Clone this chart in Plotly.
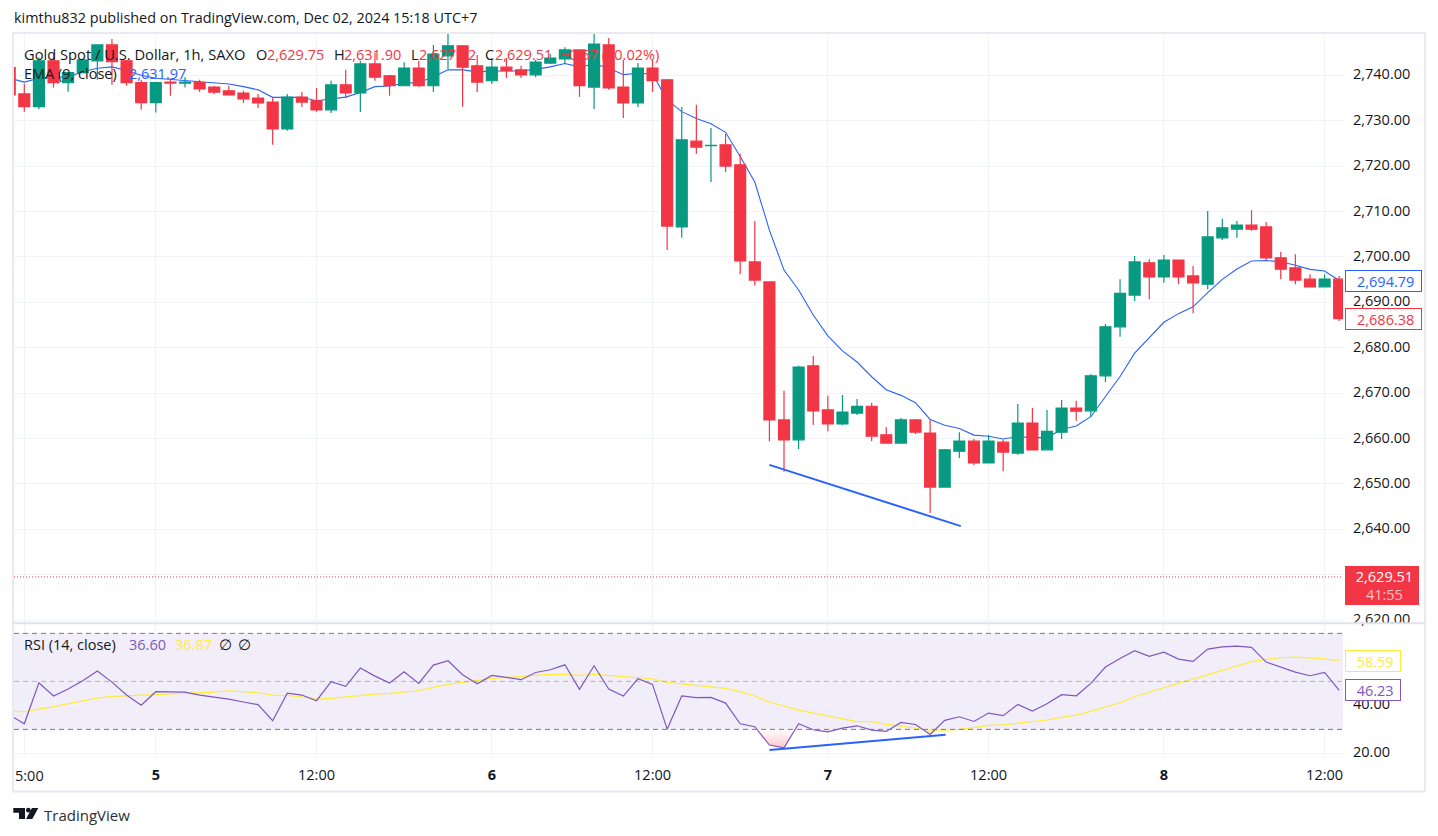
import numpy as np
import plotly.graph_objects as go

W, H = 1438, 836

bar_index = list(range(-1, 91))
opens = [2741.7,2735.9,2733.1,2743.2,2738.4,2740.6,2743.2,2746.7,2743.2,2738.4,2734.0,2738.5,2738.3,2738.4,2737.4,2736.6,2736.1,2735.0,2734.1,2728.2,
         2735.2,2734.4,2732.4,2737.9,2736.1,2742.5,2739.9,2737.7,2741.6,2737.7,2744.3,2746.5,2742.1,2738.8,2741.8,2741.2,2740.1,2742.7,2743.6,2745.6,
         2737.4,2746.7,2737.4,2733.9,2741.6,2739.0,2706.6,2725.5,2724.5,2724.7,2720.3,2698.9,2694.5,2664.1,2659.7,2676.0,2666.3,2663.2,2665.6,2667.1,
         2660.8,2659.0,2664.1,2661.2,2649.3,2657.2,2659.4,2654.6,2659.2,2656.8,2663.4,2657.5,2661.4,2666.7,2666.1,2673.8,2684.6,2691.6,2698.7,2695.6,
         2699.3,2695.8,2694.0,2704.2,2706.1,2707.0,2706.6,2699.8,2697.6,2695.1,2693.4,2695.1]
highs = [2742.0,2738.2,2744.0,2744.9,2740.6,2743.6,2746.7,2748.0,2743.4,2739.0,2738.6,2739.3,2739.6,2739.0,2737.7,2737.7,2736.6,2735.9,2735.2,2735.9,
         2736.3,2737.2,2738.8,2741.2,2743.2,2744.9,2740.1,2742.9,2743.2,2746.7,2749.1,2746.5,2744.5,2743.8,2743.8,2742.1,2743.4,2744.7,2746.2,2745.6,
         2749.1,2748.2,2743.4,2742.7,2743.4,2739.2,2733.0,2733.5,2728.4,2727.1,2722.7,2707.9,2694.5,2670.5,2676.0,2678.2,2669.4,2669.6,2668.7,2667.8,
         2662.5,2664.5,2664.3,2664.3,2657.7,2661.4,2659.9,2660.8,2659.7,2667.6,2666.7,2666.3,2668.5,2668.3,2674.2,2685.2,2695.1,2700.2,2699.5,2700.4,
         2699.3,2698.0,2710.1,2708.4,2707.9,2710.3,2707.7,2701.1,2700.6,2696.2,2696.2,2695.8]
lows = [2735.0,2732.0,2732.5,2737.3,2736.4,2740.4,2739.0,2737.9,2737.7,2732.4,2731.8,2735.5,2737.3,2736.3,2735.9,2735.7,2733.9,2732.8,2724.7,2727.8,
        2733.0,2732.0,2731.7,2735.0,2731.9,2738.8,2735.5,2737.7,2737.4,2736.3,2741.4,2733.1,2736.3,2738.1,2739.4,2739.4,2739.6,2742.5,2742.5,2735.2,
        2732.6,2736.8,2730.6,2733.0,2736.3,2701.5,2704.2,2722.7,2716.5,2718.7,2696.2,2693.7,2659.4,2652.7,2657.7,2663.0,2661.6,2663.0,2665.2,2659.4,
        2659.0,2659.0,2661.0,2643.6,2649.3,2655.7,2654.1,2654.6,2652.8,2656.4,2657.5,2657.5,2659.9,2663.9,2664.8,2672.4,2682.4,2690.3,2690.7,2694.3,
        2694.0,2687.6,2692.9,2703.7,2704.2,2705.7,2699.3,2695.1,2694.0,2693.4,2693.4,2685.9]
closes = [2735.7,2733.1,2743.2,2738.4,2740.6,2743.4,2746.7,2743.0,2738.4,2734.0,2738.4,2738.3,2738.5,2737.0,2736.3,2735.7,2734.8,2733.9,2728.2,2735.2,
          2734.1,2732.4,2737.9,2736.1,2742.5,2739.6,2737.7,2741.6,2737.7,2744.7,2746.5,2741.8,2738.5,2741.8,2741.0,2740.1,2742.9,2743.8,2745.6,2737.7,
          2746.9,2737.2,2733.9,2741.6,2738.8,2706.8,2725.8,2724.2,2724.6,2720.0,2699.1,2694.9,2664.1,2659.7,2675.7,2666.1,2663.2,2665.8,2667.1,2660.5,
          2659.0,2664.1,2661.4,2649.3,2657.5,2659.4,2654.6,2659.4,2657.0,2663.4,2657.5,2661.6,2666.7,2666.0,2673.8,2684.6,2692.0,2698.9,2695.6,2699.3,
          2695.6,2694.3,2704.4,2706.4,2707.0,2706.1,2699.8,2697.3,2694.9,2693.4,2695.1,2686.38]
ema_values = [2739.35,2738.5,2739.35,2739.6,2739.6,2740.8,2741.55,2741.85,2741.05,2740.0,2739.35,2739.1,2739.0,2738.75,2738.4,2738.1,2737.5,2736.8,2735.15,2735.15,
              2735.15,2734.4,2734.8,2735.2,2736.2,2737.5,2737.65,2738.25,2738.4,2739.7,2741.2,2741.2,2740.75,2740.95,2740.95,2740.95,2741.3,2741.85,2742.6,2741.85,
              2742.5,2741.6,2740.15,2740.45,2740.3,2734.6,2732.0,2730.5,2729.35,2727.45,2722.1,2716.5,2705.9,2697.1,2692.7,2687.2,2682.6,2679.3,2676.85,2673.6,
              2670.75,2669.5,2667.9,2664.2,2662.9,2662.2,2660.75,2660.5,2659.9,2660.45,2660.2,2660.2,2662.0,2662.75,2664.8,2669.3,2673.65,2678.8,2682.3,2685.6,
              2687.5,2689.0,2692.15,2695.05,2697.35,2699.1,2699.2,2698.95,2698.15,2697.25,2696.9,2694.79]
rsi_values = [35.96,32.35,49.4,43.9,46.8,50.3,54.3,49.7,44.3,40.1,45.7,45.55,45.55,44.3,43.5,42.6,41.4,40.3,33.6,45.1,
              44.3,41.95,49.85,47.9,55.55,52.2,49.3,54.0,49.15,56.8,58.6,52.75,49.0,52.5,51.65,50.7,53.7,54.85,56.9,46.65,
              56.5,46.8,43.9,51.1,48.75,30.1,43.9,43.2,43.35,40.95,32.35,31.1,23.5,22.35,32.35,29.85,29.0,30.55,31.5,29.7,
              29.15,32.9,32.05,27.9,33.75,35.25,33.3,36.8,35.7,40.4,37.6,40.7,44.45,44.0,49.15,55.95,59.55,62.75,60.4,62.2,
              59.3,58.3,63.45,64.4,64.7,64.15,58.05,55.95,53.85,52.35,53.75,46.23]
rsi_ma_values = [37.6,37.35,38.45,39.4,40.7,41.8,43.05,43.75,44.0,44.0,44.45,44.6,44.85,45.1,45.55,46.1,45.55,45.25,44.3,44.15,
                 43.5,42.6,42.9,43.6,44.15,44.7,45.0,45.55,46.1,47.5,48.75,49.6,50.55,51.25,51.65,52.1,52.6,52.9,52.9,52.5,
                 52.9,52.5,52.1,51.8,51.1,49.55,48.9,48.2,47.75,47.05,45.7,43.9,41.4,39.7,38.05,36.8,35.7,34.3,33.2,33.2,
                 32.05,31.4,30.4,29.55,29.7,30.0,30.7,31.65,31.9,32.6,33.2,33.9,35.0,35.95,37.5,39.15,41.1,43.6,45.55,47.5,
                 49.3,50.95,52.75,54.3,56.25,58.2,59.15,59.85,60.1,59.85,59.4,58.59]
price_trend_x = [51.0, 64.1]
price_trend_y = [2654.2, 2640.7]
rsi_trend_x = [51.0, 63.06]
rsi_trend_y = [21.4, 27.8]
price_ticks = [2620, 2630, 2640, 2650, 2660, 2670, 2680, 2690, 2700, 2710, 2720, 2730, 2740]
price_tick_labels = ["2,620.00", "", "2,640.00", "2,650.00", "2,660.00", "2,670.00", "2,680.00", "2,690.00", "2,700.00", "2,710.00", "2,720.00", "2,730.00", "2,740.00"]
rsi_ticks = [20, 40, 60]
rsi_tick_labels = ["20.00", "40.00", ""]
time_ticks = [0, 9, 20, 32, 43, 55, 66, 78, 89]
time_labels = ["", "<b>5</b>", "12:00", "<b>6</b>", "12:00", "<b>7</b>", "12:00", "<b>8</b>", "12:00"]
last_close = 2629.51
ema_last = 2694.79
price_last = 2686.38

RED, GREEN, BLUE = "#F23645", "#089981", "#2962FF"
PURPLE, YELLOW = "#7E57C2", "#FFEB3B"
TEXT, GRID = "#131722", "#F0F3FA"
FONT = "Open Sans"
FS = 14.5

def fx(px):
    return px / W

def fy(py):
    return 1 - py / H

fig = go.Figure()
fig.add_trace(go.Scatter(x=bar_index, y=ema_values, mode="lines", line=dict(color=BLUE, width=1.1), xaxis="x", yaxis="y"))
fig.add_trace(go.Candlestick(x=bar_index, open=opens, high=highs, low=lows, close=closes, xaxis="x3", yaxis="y3",
                             increasing=dict(line=dict(color=GREEN, width=1.2), fillcolor=GREEN),
                             decreasing=dict(line=dict(color=RED, width=1.2), fillcolor=RED), whiskerwidth=0))
fig.add_trace(go.Scatter(x=price_trend_x, y=price_trend_y, mode="lines", line=dict(color=BLUE, width=2), xaxis="x3", yaxis="y3"))

# oversold shading: the part of the RSI below the 30 line
rx, ry = [], []
arr = np.array(rsi_values)
for i in range(len(arr) - 1):
    a, b = arr[i], arr[i + 1]
    if a < 30 or b < 30:
        if a >= 30:
            rx.append(bar_index[i] + (a - 30) / (a - b))
            ry.append(30)
        if a < 30:
            rx.append(bar_index[i])
            ry.append(a)
        if a < 30 and b >= 30:
            rx.append(bar_index[i] + (30 - a) / (b - a))
            ry.append(30)
            fig.add_trace(go.Scatter(x=rx, y=ry, mode="lines", line=dict(width=0), fill="toself", xaxis="x2", yaxis="y2",
                                     fillgradient=dict(type="vertical", colorscale=[[0, "rgba(242,54,69,0.28)"], [1, "rgba(242,54,69,0)"]])))
            rx, ry = [], []

fig.add_trace(go.Scatter(x=bar_index, y=rsi_ma_values, mode="lines", line=dict(color=YELLOW, width=1.2), xaxis="x2", yaxis="y2"))
fig.add_trace(go.Scatter(x=bar_index, y=rsi_values, mode="lines", line=dict(color=PURPLE, width=1.2), xaxis="x2", yaxis="y2"))
fig.add_trace(go.Scatter(x=rsi_trend_x, y=rsi_trend_y, mode="lines", line=dict(color=BLUE, width=2), xaxis="x2", yaxis="y2"))

xrange = [-0.705, 90.26]
yrange = [2619.36, 2749.1]
rsirange = [18.5, 73.9]
xcommon = dict(range=xrange, domain=[fx(14), fx(1343)], showgrid=True, gridcolor=GRID, gridwidth=1, zeroline=False,
               tickmode="array", tickvals=time_ticks, ticks="", showline=False, fixedrange=True, automargin=False)
ann = []

def txt(x, y, text, color=TEXT, size=FS, anchor="left", **kw):
    ann.append(dict(xref="paper", yref="paper", x=fx(x), y=fy(y), text=text, showarrow=False, xanchor=anchor, yanchor="middle",
                    font=dict(family=FONT, size=size, color=color), borderpad=0, **kw))

txt(13, 17, "kimthu832 published on TradingView.com, Dec 02, 2024 15:18 UTC+7", size=14.4)
txt(23, 54, "Gold Spot / U.S. Dollar, 1h, SAXO", size=14.7)
txt(255, 54, "O")
txt(266, 54, "2,629.75", RED)
txt(333, 54, "H")
txt(343, 54, "2,631.90", RED)
txt(410, 54, "L")
txt(418, 54, "2,627.12", RED)
txt(484, 54, "C")
txt(494, 54, "2,629.51", RED)
txt(560, 54, "\u22120.57 (\u22120.02%)", RED)
txt(23, 74, "EMA (9, close)")
txt(128, 74, "2,631.97", BLUE)
txt(23, 644, "RSI (14, close)")
txt(128, 644, "36.60", PURPLE)
txt(174, 644, "36.87", YELLOW)
txt(218, 644, "\u2205")
txt(237, 644, "\u2205")
txt(43, 815, "TradingView", size=15, color="#2A2E39")
txt(14, 775, "5:00", size=FS)


def box(val, yref, text, color, x0, x1, h):
    ann.append(dict(xref="paper", yref=yref, x=fx(x0), y=val, xanchor="left", yanchor="middle", showarrow=False,
                    text="\u2009\u2009" + text,
                    font=dict(family=FONT, size=FS, color=color), bgcolor="white", bordercolor=color, borderwidth=1,
                    width=x1 - x0, height=h, align="center", borderpad=0))


box(ema_last, "y", f"{ema_last:,.2f}", BLUE, 1344.5, 1419, 20)
box(price_last, "y", f"{price_last:,.2f}", RED, 1344.5, 1419, 20)
box(rsi_ma_values[-1], "y2", f"{rsi_ma_values[-1]:.2f}", YELLOW, 1344.5, 1398, 20)
box(rsi_values[-1], "y2", f"{rsi_values[-1]:.2f}", PURPLE, 1344.5, 1398, 20)
ann.append(dict(xref="paper", yref="y", x=fx(1345), y=last_close, yshift=-8.5, xanchor="left", yanchor="middle", showarrow=False,
                text=f'\u2009\u2009{last_close:,.2f}<br>\u2009\u2009<span style="color:#FFC2C7">41:55</span>',
                font=dict(family=FONT, size=FS, color="white"), bgcolor=RED, bordercolor=RED, borderwidth=0,
                width=74, height=39, align="center", borderpad=0))

shapes = [
    dict(type="rect", xref="paper", yref="paper", x0=fx(13), x1=fx(1425), y0=fy(791.5), y1=fy(33), line=dict(color="#E9E9F2", width=2), fillcolor="rgba(0,0,0,0)", layer="below"),
    dict(type="line", xref="paper", yref="paper", x0=fx(13), x1=fx(1425), y0=fy(623.3), y1=fy(623.3), line=dict(color="#E0E3EB", width=2)),
    dict(type="rect", xref="paper", yref="y2", x0=fx(14), x1=fx(1343), y0=30, y1=70, line=dict(width=0), fillcolor="rgba(126,87,194,0.1)", layer="below"),
    dict(type="line", xref="paper", yref="y2", x0=fx(14), x1=fx(1343), y0=70, y1=70, line=dict(color="#787B86", width=1, dash="5px,4px")),
    dict(type="line", xref="paper", yref="y2", x0=fx(14), x1=fx(1343), y0=30, y1=30, line=dict(color="#787B86", width=1, dash="5px,4px")),
    dict(type="line", xref="paper", yref="y2", x0=fx(14), x1=fx(1343), y0=50, y1=50, line=dict(color="rgba(120,123,134,0.5)", width=1, dash="5px,4px")),
    dict(type="line", xref="paper", yref="y", x0=fx(14), x1=fx(1343), y0=last_close, y1=last_close, line=dict(color=RED, width=1, dash="1px,2px")),
]


def poly(points):
    return "M " + " L ".join(f"{fx(a):.5f},{fy(b):.5f}" for a, b in points) + " Z"


logo = [
    dict(type="path", xref="paper", yref="paper", path=poly([(13.3, 808), (25, 808), (25, 819), (19, 819), (19, 812.7), (13.3, 812.7)]), fillcolor="#131722", line=dict(width=0)),
    dict(type="circle", xref="paper", yref="paper", x0=fx(26), x1=fx(30.7), y0=fy(812.5), y1=fy(807.8), fillcolor="#131722", line=dict(width=0)),
    dict(type="path", xref="paper", yref="paper", path=poly([(32, 808), (38.3, 808), (32.3, 819), (26, 819)]), fillcolor="#131722", line=dict(width=0)),
]

fig.update_layout(
    width=W, height=H, margin=dict(l=0, r=0, t=0, b=0, pad=0, autoexpand=False), autosize=False, showlegend=False,
    paper_bgcolor="white", plot_bgcolor="white", boxgap=0.25, boxgroupgap=0, font=dict(family=FONT, color=TEXT, size=FS),
    xaxis=dict(**xcommon, anchor="y", showticklabels=False),
    xaxis2=dict(**xcommon, anchor="y2", showticklabels=True, ticktext=time_labels, ticklabelstandoff=7, tickfont=dict(family=FONT, size=FS, color=TEXT)),
    xaxis3=dict(range=xrange, domain=[fx(14), fx(1343)], overlaying="x", anchor="y3", visible=False, fixedrange=True, rangeslider=dict(visible=False)),
    yaxis=dict(range=yrange, domain=[fy(623), fy(34)], side="right", anchor="x", showgrid=True, gridcolor=GRID, zeroline=False,
               tickmode="array", tickvals=price_ticks, ticktext=price_tick_labels, ticks="", ticklabelstandoff=9, ticklabelshift=-1, fixedrange=True),
    yaxis2=dict(range=rsirange, domain=[fy(757), fy(624)], side="right", anchor="x2", showgrid=True, gridcolor=GRID, zeroline=False,
                tickmode="array", tickvals=rsi_ticks, ticktext=rsi_tick_labels, ticks="", ticklabelstandoff=9, ticklabelshift=-1, fixedrange=True),
    yaxis3=dict(range=yrange, domain=[fy(623), fy(34)], overlaying="y", anchor="x3", visible=False, fixedrange=True),
    annotations=ann, shapes=shapes + logo,
)

fig.write_html("out.html", config=dict(displayModeBar=False),
               post_script="document.body.style.margin='0';document.documentElement.style.overflow='hidden';")
